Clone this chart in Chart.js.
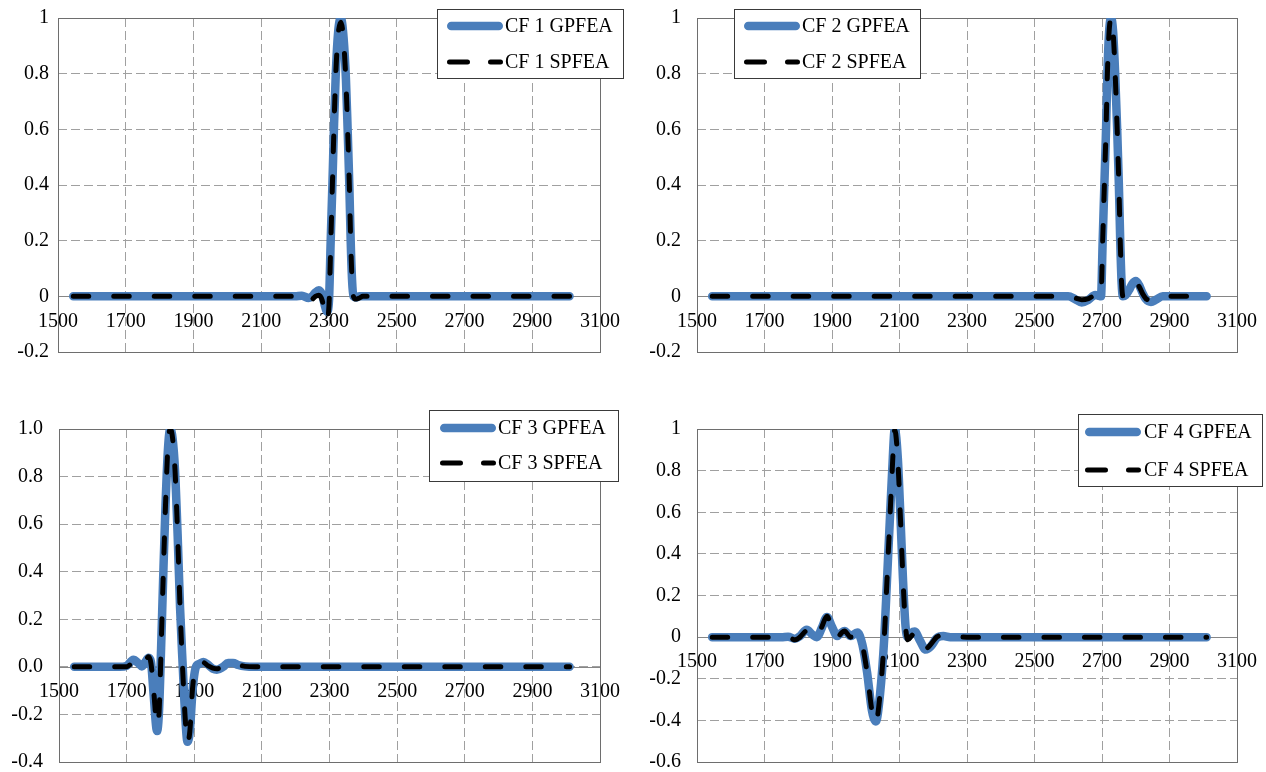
<!DOCTYPE html>
<html>
<head>
<meta charset="utf-8">
<script src="https://cdn.jsdelivr.net/npm/chart.js@4.4.1/dist/chart.umd.min.js"></script>
<style>
  html, body { margin: 0; padding: 0; background: #fff; }
  body { width: 1266px; height: 772px; position: relative; overflow: hidden; }
  canvas { position: absolute; }
</style>
</head>
<body>
<canvas id="cf1" width="639" height="404" style="left:0;top:-12px"></canvas>
<canvas id="cf2" width="637" height="404" style="left:639px;top:-12px"></canvas>
<canvas id="cf3" width="639" height="403" style="left:0;top:399px"></canvas>
<canvas id="cf4" width="637" height="403" style="left:639px;top:399px"></canvas>
<script>
// CF 1
const cf1X = [1545, 1600, 1700, 1800, 1900, 2000, 2100, 2150, 2200,
  2220, 2240, 2250, 2260, 2270, 2280, 2288, 2294,
  2300, 2305, 2310, 2315, 2320, 2327, 2335, 2343, 2350, 2355,
  2360, 2364, 2368, 2372, 2380, 2390, 2400,
  2450, 2500, 2600, 2700, 2800, 2900, 3010];
const cf1Gpfea = [0, 0, 0, 0, 0, 0, 0, 0, 0,
  0.002, -0.006, 0, 0.014, 0.022, 0.005, -0.035, -0.055,
  -0.015, 0.2, 0.4, 0.62, 0.8, 0.95, 1.0, 0.93, 0.78, 0.6,
  0.4, 0.2, 0.06, 0, -0.004, 0, 0,
  0, 0, 0, 0, 0, 0, 0];
const cf1Spfea = [0, 0, 0, 0, 0, 0, 0, 0, 0,
  -0.004, -0.022, -0.012, 0, 0.004, -0.015, -0.065, -0.085,
  -0.03, 0.18, 0.4, 0.62, 0.8, 0.94, 0.985, 0.92, 0.77, 0.6,
  0.4, 0.2, 0.06, 0, -0.01, -0.006, 0,
  0, 0, 0, 0, 0, 0, 0];

// CF 2
const cf2X = [1545, 1600, 1700, 1800, 1900, 2000, 2100, 2200, 2300, 2400, 2500, 2550,
  2600, 2620, 2640, 2660, 2680, 2690, 2697,
  2702, 2707, 2712, 2716, 2721, 2727, 2733, 2739, 2745, 2750,
  2754, 2758, 2762, 2770, 2780, 2790, 2800, 2810, 2820, 2830,
  2845, 2860, 2880, 2900, 2950, 3010];
const cf2Gpfea = [0, 0, 0, 0, 0, 0, 0, 0, 0, 0, 0, 0,
  0, -0.01, -0.022, -0.012, 0.005, 0.002, 0,
  0.2, 0.4, 0.6, 0.8, 0.95, 1.0, 0.95, 0.8, 0.6, 0.4,
  0.2, 0.05, 0, 0.004, 0.022, 0.045, 0.055, 0.04, 0.012, -0.01,
  -0.02, -0.012, 0, 0, 0, 0];
const cf2Spfea = [0, 0, 0, 0, 0, 0, 0, 0, 0, 0, 0, 0,
  0, -0.006, -0.012, -0.008, 0.004, 0.002, 0,
  0.2, 0.4, 0.6, 0.8, 0.95, 1.0, 0.95, 0.8, 0.6, 0.4,
  0.2, 0.05, 0, 0.002, 0.018, 0.04, 0.048, 0.035, 0.01, -0.008,
  -0.015, -0.01, 0, 0, 0, 0];

// CF 3
const cf3X = [1545, 1600, 1650, 1680, 1700,
  1720, 1735, 1745, 1755, 1765,
  1772, 1780, 1790, 1796, 1802,
  1808, 1815, 1822, 1829, 1836,
  1843, 1851, 1858, 1866, 1873,
  1880, 1887, 1895, 1905, 1915,
  1927, 1940, 1955, 1967, 1985,
  2000, 2015, 2030, 2050, 2080,
  2150, 2300, 2500, 2700, 2900, 3010];
const cf3Gpfea = [0, 0, 0, 0, 0.004,
  0.03, 0.015, 0.002, 0.02, 0.038,
  0.02, -0.12, -0.27, -0.18, 0.08,
  0.37, 0.68, 0.91, 1.0, 0.96,
  0.83, 0.55, 0.25, 0, -0.2,
  -0.315, -0.27, -0.1, 0, 0.012,
  0.02, 0.01, -0.008, -0.012, 0,
  0.016, 0.016, 0.008, 0.002, 0,
  0, 0, 0, 0, 0, 0];
const cf3Spfea = [0, 0, 0, 0, 0,
  0.018, 0.008, 0, 0.025, 0.042,
  0.015, -0.1, -0.245, -0.19, 0.08,
  0.37, 0.68, 0.92, 1.0, 0.96,
  0.83, 0.55, 0.25, -0.02, -0.21,
  -0.32, -0.27, -0.09, 0, 0.012,
  0.018, 0.005, -0.005, -0.008, 0,
  0.01, 0.012, 0.008, 0.002, 0,
  0, 0, 0, 0, 0, 0];

// CF 4
const cf4X = [1545, 1600, 1700, 1750, 1770,
  1790, 1805, 1825, 1842, 1855,
  1870, 1885, 1900, 1915, 1927,
  1937, 1955, 1975, 1990, 2004,
  2018, 2030, 2042, 2055, 2063,
  2071, 2078, 2086, 2095, 2103,
  2110, 2118, 2125, 2135, 2145,
  2160, 2178, 2195, 2210, 2230,
  2250, 2300, 2500, 2700, 2900, 3010];
const cf4Gpfea = [0, 0, 0, 0, 0.002,
  -0.008, 0.005, 0.035, 0.012, 0,
  0.045, 0.097, 0.05, 0.005, 0.02,
  0.03, 0.005, 0.022, -0.035, -0.17,
  -0.35, -0.405, -0.28, 0, 0.275,
  0.55, 0.79, 1.0, 0.86, 0.57,
  0.29, 0.05, 0, 0.02, 0.027,
  -0.015, -0.06, -0.04, -0.005, 0.005,
  0, 0, 0, 0, 0, 0];
const cf4Spfea = [0, 0, 0, 0, 0,
  -0.013, 0, 0.03, 0.01, 0,
  0.05, 0.1, 0.04, -0.003, 0.018,
  0.03, 0, 0.01, -0.04, -0.17,
  -0.35, -0.41, -0.28, 0, 0.275,
  0.55, 0.79, 0.995, 0.85, 0.563,
  0.29, 0.05, -0.013, 0.005, 0.02,
  -0.02, -0.055, -0.03, 0, 0.008,
  0.004, 0, 0, 0, 0, 0];

const FONT = '"Liberation Serif", "Times New Roman", serif';
const BLUE = '#4A7EBB';

// plot frame, zero line and the boxed legend (Excel style)
const framePlugin = {
  id: 'frame',
  beforeDatasetsDraw(chart) {
    const { ctx, chartArea: a } = chart;
    const y0 = Math.round(chart.scales.y.getPixelForValue(0)) + 0.5;
    ctx.save();
    ctx.lineWidth = 1;
    ctx.strokeStyle = '#868686';
    ctx.beginPath();
    ctx.moveTo(a.left, y0);
    ctx.lineTo(a.right, y0);
    ctx.stroke();
    ctx.strokeStyle = '#6e6e6e';
    ctx.strokeRect(Math.round(a.left) + 0.5, Math.round(a.top) + 0.5,
      Math.round(a.right - a.left), Math.round(a.bottom - a.top));
    ctx.restore();
  },
  afterDraw(chart, args, opts) {
    const ctx = chart.ctx;
    const b = opts.box;
    ctx.save();
    ctx.fillStyle = '#fff';
    ctx.fillRect(b.x, b.y, b.w, b.h);
    ctx.strokeStyle = '#3a3a3a';
    ctx.lineWidth = 1;
    ctx.strokeRect(b.x + 0.5, b.y + 0.5, b.w, b.h);
    chart.data.datasets.forEach((ds, i) => {
      const y = b.y + b.rows[i];
      const w = ds.borderWidth;
      ctx.beginPath();
      ctx.lineCap = 'round';
      ctx.strokeStyle = ds.borderColor;
      ctx.lineWidth = w;
      ctx.setLineDash(ds.borderDash ? [18, 23] : []);
      ctx.moveTo(b.x + b.sx + w / 2, y);
      ctx.lineTo(b.x + b.sx + 56 - w / 2, y);
      ctx.stroke();
      ctx.setLineDash([]);
      ctx.fillStyle = '#000';
      ctx.font = '20px ' + FONT;
      ctx.textBaseline = 'middle';
      ctx.textAlign = 'left';
      ctx.fillText(ds.label, b.x + b.tx, y + 1);
    });
    ctx.restore();
  }
};

function makeChart(id, xs, gp, sp, n, cfg) {
  const pts = (ys) => xs.map((x, i) => ({ x: x, y: ys[i] }));
  return new Chart(document.getElementById(id), {
    type: 'line',
    data: {
      datasets: [
        {
          label: 'CF ' + n + ' GPFEA',
          data: pts(gp),
          borderColor: BLUE,
          borderWidth: 8.5,
          borderCapStyle: 'round',
          borderJoinStyle: 'round',
          pointRadius: 0,
          cubicInterpolationMode: 'monotone',
          order: 2
        },
        {
          label: 'CF ' + n + ' SPFEA',
          data: pts(sp),
          borderColor: '#000',
          borderWidth: 5,
          borderDash: [15.5, 25],
          borderCapStyle: 'round',
          borderJoinStyle: 'round',
          pointRadius: 0,
          cubicInterpolationMode: 'monotone',
          order: 1
        }
      ]
    },
    options: {
      responsive: false,
      animation: false,
      events: [],
      layout: { padding: cfg.padding },
      plugins: {
        legend: { display: false },
        tooltip: { enabled: false },
        frame: { box: cfg.legend }
      },
      scales: {
        x: {
          type: 'linear',
          position: { y: 0 },
          min: 1500,
          max: 3100,
          grid: { color: '#a0a0a0', lineWidth: 1, drawTicks: false },
          border: { display: false, dash: [9, 4] },
          ticks: {
            stepSize: 200,
            padding: 15,
            color: '#000',
            font: { family: FONT, size: 20, lineHeight: 1 },
            maxRotation: 0,
            autoSkip: false,
            callback: (v) => String(v)
          }
        },
        y: {
          type: 'linear',
          min: cfg.yMin,
          max: cfg.yMax,
          afterFit: (s) => { s.width = cfg.axisW; },
          grid: { color: '#a0a0a0', lineWidth: 1, drawTicks: false },
          border: { display: false, dash: [9, 4] },
          ticks: {
            stepSize: 0.2,
            padding: cfg.yPad,
            color: '#000',
            font: { family: FONT, size: 20, lineHeight: 1 },
            callback: cfg.fmt
          }
        }
      }
    },
    plugins: [framePlugin]
  });
}

const plain = (v) => String(Math.round(v * 10) / 10);
const oneDec = (v) => (Math.round(v * 10) / 10).toFixed(1);

makeChart('cf1', cf1X, cf1Gpfea, cf1Spfea, 1, {
  padding: { left: 0, top: 30, right: 39, bottom: 40 },
  axisW: 58, yPad: 9, yMin: -0.2, yMax: 1, fmt: plain,
  legend: { x: 437, y: 21, w: 186, h: 69, rows: [17, 53], sx: 10, tx: 68 }
});
makeChart('cf2', cf2X, cf2Gpfea, cf2Spfea, 2, {
  padding: { left: 0, top: 30, right: 39, bottom: 40 },
  axisW: 58, yPad: 16, yMin: -0.2, yMax: 1, fmt: plain,
  legend: { x: 95, y: 21, w: 186, h: 69, rows: [17, 53], sx: 10, tx: 68 }
});
makeChart('cf3', cf3X, cf3Gpfea, cf3Spfea, 3, {
  padding: { left: 0, top: 30, right: 39, bottom: 40 },
  axisW: 59, yPad: 16, yMin: -0.4, yMax: 1, fmt: oneDec,
  legend: { x: 429, y: 11, w: 189, h: 71, rows: [18, 53], sx: 11, tx: 69 }
});
makeChart('cf4', cf4X, cf4Gpfea, cf4Spfea, 4, {
  padding: { left: 0, top: 30, right: 39, bottom: 40 },
  axisW: 58, yPad: 16, yMin: -0.6, yMax: 1, fmt: plain,
  legend: { x: 439, y: 15, w: 184, h: 72, rows: [18, 56], sx: 7, tx: 66 }
});
</script>
</body>
</html>
